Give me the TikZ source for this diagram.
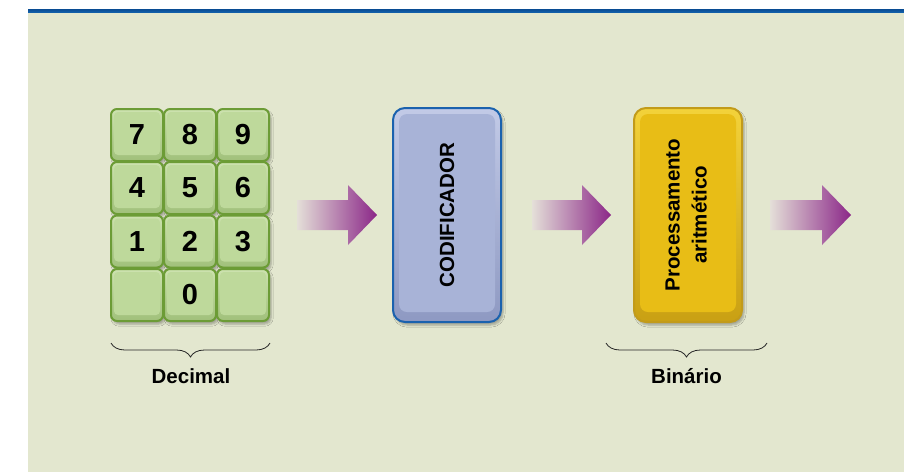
\documentclass[tikz,border=0pt]{standalone}
\usepackage{fontspec}
\setmainfont{Liberation Sans}
\usetikzlibrary{shadows.blur,decorations.pathreplacing,calc}

\definecolor{panel}{HTML}{E3E7CF}
\definecolor{ruleblue}{HTML}{1462AD}
\definecolor{ruledark}{HTML}{0B4F97}
\definecolor{keyface}{HTML}{BED99B}
\definecolor{keyhi}{HTML}{CDE2AF}
\definecolor{keylo}{HTML}{A0C07A}
\definecolor{keyline}{HTML}{6C9C36}
\definecolor{codface}{HTML}{A8B3D7}
\definecolor{codhi}{HTML}{C2CAE7}
\definecolor{codlo}{HTML}{8E99C2}
\definecolor{codline}{HTML}{1B62AE}
\definecolor{procface}{HTML}{E8BD16}
\definecolor{prochi}{HTML}{F3D23A}
\definecolor{proclo}{HTML}{C9A013}
\definecolor{procline}{HTML}{C29B1A}
\definecolor{flowend}{HTML}{8B2788}
\definecolor{flowstart}{HTML}{E4DFD8}

\tikzset{
  softshadow/.style={blur shadow={shadow xshift=2pt, shadow yshift=-3pt,
      shadow blur steps=5, shadow opacity=30}},
  keycap/.style={draw=keyline, line width=2pt, rounded corners=6pt,
    top color=keyhi, bottom color=keylo, minimum width=52pt,
    minimum height=52pt, inner sep=0pt, softshadow,
    font=\fontsize{29}{29}\selectfont\bfseries,
    path picture={\fill[keyface, rounded corners=4pt]
      ([xshift=3pt,yshift=-3pt]path picture bounding box.north west) rectangle
      ([xshift=-3pt,yshift=6pt]path picture bounding box.south east);}},
  stagebox/.style={line width=2pt, rounded corners=12pt,
    minimum width=108pt, minimum height=214pt, inner sep=0pt, softshadow,
    font=\fontsize{20.5}{25}\selectfont\bfseries, align=center},
  codbox/.style={stagebox, draw=codline, top color=codhi, bottom color=codlo,
    path picture={\fill[codface, rounded corners=8pt]
      ([xshift=6pt,yshift=-6pt]path picture bounding box.north west) rectangle
      ([xshift=-6pt,yshift=10pt]path picture bounding box.south east);}},
  procbox/.style={stagebox, draw=procline, top color=prochi, bottom color=proclo,
    path picture={\fill[procface, rounded corners=8pt]
      ([xshift=6pt,yshift=-6pt]path picture bounding box.north west) rectangle
      ([xshift=-6pt,yshift=10pt]path picture bounding box.south east);}},
  flow/.style={left color=flowstart, right color=flowend},
  groupbrace/.style={decorate, decoration={brace, mirror, amplitude=14pt},
    line width=0.8pt, draw=black!85},
  caption/.style={font=\fontsize{20.5}{24}\selectfont\bfseries, inner sep=0pt}
}

% fat block arrow: start x, end x (head is 29pt long)
\newcommand\fatarrow[2]{%
  \shade[flow] (#1,200) -- (#2-29,200) -- (#2-29,185) -- (#2,215)
    -- (#2-29,245) -- (#2-29,230) -- (#1,230) -- cycle;}

\begin{document}
\begin{tikzpicture}[x=1pt,y=-1pt]
  \useasboundingbox (0,0) rectangle (904,472);
  \fill[white] (0,0) rectangle (904,472);
  % panel and top rule
  \fill[panel] (28,12) rectangle (904,472);
  \shade[top color=ruledark, bottom color=ruleblue] (28,9.5) rectangle (904,12.5);

  % keypad
  \node[keycap] (k7) at (137,135) {7};
  \node[keycap] (k8) at (190,135) {8};
  \node[keycap] (k9) at (243,135) {9};
  \node[keycap] (k4) at (137,188) {4};
  \node[keycap] (k5) at (190,188) {5};
  \node[keycap] (k6) at (243,188) {6};
  \node[keycap] (k1) at (137,241.5) {1};
  \node[keycap] (k2) at (190,241.5) {2};
  \node[keycap] (k3) at (243,241.5) {3};
  \node[keycap] (kl) at (137,295) {};
  \node[keycap] (k0) at (190,295) {0};
  \node[keycap] (kr) at (243,295) {};

  % stages
  \node[codbox] (cod) at (447,215) {\rotatebox{90}{CODIFICADOR}};
  \node[procbox] (proc) at (688,215) {\rotatebox{90}{\begin{tabular}{@{}c@{}}Processamento\\[2pt]aritmético\end{tabular}}};

  % flow arrows
  \fatarrow{297}{377}
  \fatarrow{532}{611}
  \fatarrow{770}{851}

  % braces and captions
  \coordinate (dl) at (111,343);
  \coordinate (dr) at (270,343);
  \coordinate (bl) at (606,343);
  \coordinate (br) at (767,343);
  \draw[groupbrace] (dl) -- (dr);
  \draw[groupbrace] (bl) -- (br);
  \node[caption] (dec) at (191,376) {Decimal};
  \node[caption] (bin) at (686.5,376) {Binário};
\end{tikzpicture}
\end{document}
